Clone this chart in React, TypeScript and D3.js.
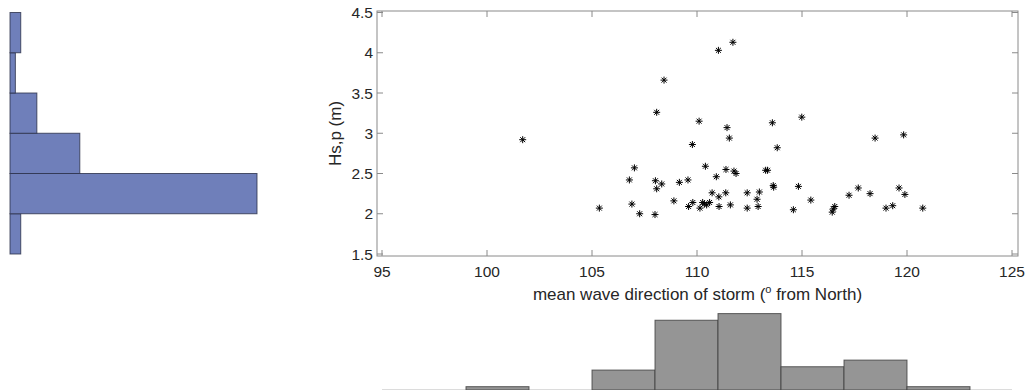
import React from "react";
import * as d3 from "d3";

// Scatter data: mean wave direction of storm (deg from North) vs Hs,p (m)
const stormDirection = [
  101.7, 105.35, 106.78, 107.02, 106.9, 107.27, 108.02, 108.08, 108.32, 108.0,
  108.08, 108.43, 108.9, 109.16, 109.57, 109.78, 110.1, 110.4, 110.92, 111.02,
  111.71, 111.43, 111.54, 111.38, 111.76, 111.86, 110.72, 111.04, 111.37, 109.6,
  109.8, 110.14, 110.27, 110.46, 110.6, 110.35, 111.05, 111.59, 112.39, 112.39,
  112.86, 112.97, 112.91, 113.27, 113.36, 113.59, 113.82, 113.63, 113.65, 114.59,
  114.83, 114.99, 115.42, 116.44, 116.49, 116.56, 117.24, 117.68, 118.24, 118.48,
  119.0, 119.32, 119.62, 119.84, 119.9, 120.75,
];
const stormHs = [
  2.92, 2.07, 2.42, 2.57, 2.12, 2.0, 2.41, 2.31, 2.37, 1.99,
  3.26, 3.66, 2.16, 2.39, 2.42, 2.86, 3.15, 2.59, 2.46, 4.03,
  4.13, 3.07, 2.94, 2.55, 2.53, 2.5, 2.26, 2.21, 2.26, 2.09,
  2.14, 2.07, 2.14, 2.11, 2.14, 2.12, 2.09, 2.11, 2.26, 2.07,
  2.18, 2.27, 2.09, 2.54, 2.54, 3.13, 2.82, 2.35, 2.33, 2.05,
  2.34, 3.2, 2.17, 2.02, 2.06, 2.09, 2.23, 2.32, 2.25, 2.94,
  2.07, 2.1, 2.32, 2.98, 2.24, 2.07,
];

// Histogram of Hs,p (left, horizontal)
const hsBinEdges = [1.5, 2.0, 2.5, 3.0, 3.5, 4.0, 4.5];
const hsCounts = [2, 46, 13, 5, 1, 2];

// Histogram of direction (bottom)
const dirBinEdges = [99, 102, 105, 108, 111, 114, 117, 120, 123];
const dirCounts = [1, 0, 6, 21, 23, 7, 9, 1];

const xTicks = [95, 100, 105, 110, 115, 120, 125];
const yTicks = [1.5, 2, 2.5, 3, 3.5, 4, 4.5];

const W = 1027;
const H = 390;
const FONT = "'Liberation Sans', Arial, Helvetica, sans-serif";
const AXIS = "#8a8a8a";
const TEXT = "#262626";

export default function App() {
  const x = d3.scaleLinear().domain([95, 125]).range([382, 1012]);
  const y = d3.scaleLinear().domain([1.5, 4.5]).range([254, 12.5]);
  const box = { x0: 377, x1: 1018, y0: 11, y1: 256 };
  const tickLen = 6;

  // left histogram scale
  const hx = d3.scaleLinear().domain([0, 46]).range([10, 257]);
  // bottom histogram scale
  const hy = d3.scaleLinear().domain([0, 23]).range([390, 313.6]);

  const star = (cx: number, cy: number, r: number) => {
    const d = r * 0.7071;
    return `M${cx - r},${cy}L${cx + r},${cy}M${cx},${cy - r}L${cx},${cy + r}M${cx - d},${cy - d}L${cx + d},${cy + d}M${cx - d},${cy + d}L${cx + d},${cy - d}`;
  };

  return (
    <svg
      width={W}
      height={H}
      style={{ position: "absolute", left: 0, top: 0, background: "#fff" }}
      fontFamily={FONT}
    >
      <rect x={0} y={0} width={W} height={H} fill="#fff" />

      {/* Left horizontal histogram */}
      <g>
        {hsCounts.map((c, i) => (
          <rect
            key={i}
            x={hx(0)}
            y={y(hsBinEdges[i + 1])}
            width={hx(c) - hx(0)}
            height={y(hsBinEdges[i]) - y(hsBinEdges[i + 1])}
            fill="#6f7fba"
            stroke="#2a2f48"
            strokeWidth={1}
            strokeOpacity={0.8}
          />
        ))}
      </g>

      {/* Scatter axes box */}
      <rect
        x={box.x0}
        y={box.y0}
        width={box.x1 - box.x0}
        height={box.y1 - box.y0}
        fill="none"
        stroke={AXIS}
        strokeWidth={1}
      />
      {xTicks.map((t) => (
        <g key={"xt" + t}>
          <line x1={x(t)} x2={x(t)} y1={box.y1} y2={box.y1 - tickLen} stroke={AXIS} />
          <line x1={x(t)} x2={x(t)} y1={box.y0} y2={box.y0 + tickLen} stroke={AXIS} />
          <text
            x={x(t)}
            y={277}
            textAnchor="middle"
            fontSize={15.5}
            fill={TEXT}
          >
            {t}
          </text>
        </g>
      ))}
      {yTicks.map((t) => (
        <g key={"yt" + t}>
          <line x1={box.x0} x2={box.x0 + tickLen} y1={y(t)} y2={y(t)} stroke={AXIS} />
          <line x1={box.x1} x2={box.x1 - tickLen} y1={y(t)} y2={y(t)} stroke={AXIS} />
          <text
            x={373}
            y={y(t)}
            dy="0.36em"
            textAnchor="end"
            fontSize={15.5}
            fill={TEXT}
          >
            {t}
          </text>
        </g>
      ))}

      {/* Scatter points */}
      <g stroke="#000" strokeWidth={1} fill="none">
        {stormDirection.map((d, i) => (
          <path key={i} d={star(x(d), y(stormHs[i]), 3.5)} />
        ))}
      </g>

      {/* Axis labels */}
      <text
        x={(box.x0 + box.x1) / 2}
        y={300}
        textAnchor="middle"
        fontSize={17}
        fill={TEXT}
      >
        mean wave direction of storm (
        <tspan fontSize={11} dy={-7}>o</tspan>
        <tspan dy={7}> from North)</tspan>
      </text>
      <text
        transform={`translate(341,${(box.y0 + box.y1) / 2}) rotate(-90)`}
        textAnchor="middle"
        fontSize={17}
        fill={TEXT}
      >
        Hs,p (m)
      </text>

      {/* Bottom histogram */}
      <line x1={x(95)} x2={x(125)} y1={389.5} y2={389.5} stroke="#dcdcdc" />
      <g>
        {dirCounts.map((c, i) =>
          c > 0 ? (
            <rect
              key={i}
              x={x(dirBinEdges[i])}
              y={hy(c)}
              width={x(dirBinEdges[i + 1]) - x(dirBinEdges[i])}
              height={hy(0) - hy(c)}
              fill="#959595"
              stroke="#3c3c3c"
              strokeWidth={1}
              strokeOpacity={0.8}
            />
          ) : null
        )}
      </g>
    </svg>
  );
}
